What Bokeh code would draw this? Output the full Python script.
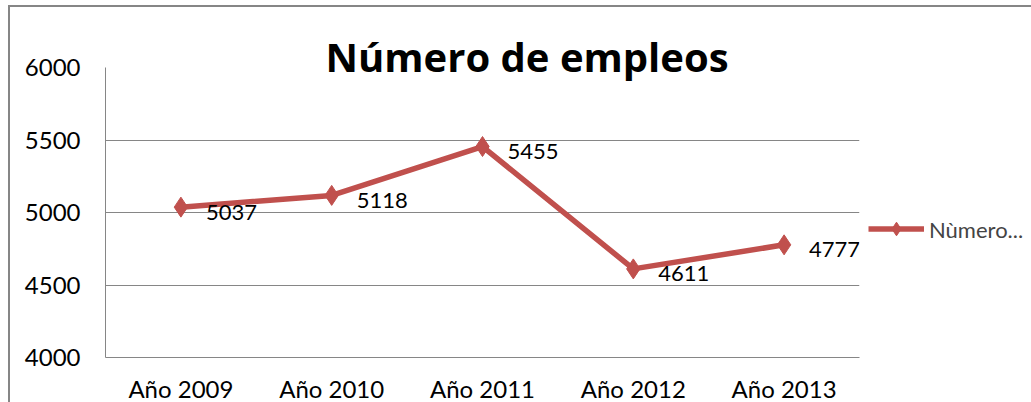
from bokeh.plotting import figure
from bokeh.models import (ColumnDataSource, FixedTicker, Range1d, LabelSet,
                          Legend, LegendItem)
from bokeh.core.properties import value
from bokeh.embed import file_html
from bokeh.resources import INLINE

years = ["Año 2009", "Año 2010", "Año 2011", "Año 2012", "Año 2013"]
empleos = [5037, 5118, 5455, 4611, 4777]
y_ticks = [4000, 4500, 5000, 5500, 6000]
title_text = "Número de empleos"
series_name = "Nùmero..."

RED = "#C0504D"
GRAY = "#868686"
FONT = "Lato"

src = ColumnDataSource(dict(x=years, y=empleos, lbl=[str(v) for v in empleos]))

p = figure(x_range=years, y_range=Range1d(4000, 6000),
           frame_width=754, frame_height=290,
           output_backend="svg", toolbar_location=None,
           min_border_left=95, min_border_right=172, min_border_top=60,
           min_border_bottom=45)
p.styles = {"border-top": "2px solid " + GRAY, "border-left": "2px solid " + GRAY,
            "margin-left": "8px", "margin-top": "5px"}
p.outline_line_color = None
p.background_fill_color = "white"
p.border_fill_color = "white"

p.title.text = title_text
p.title.text_font = "Open Sans"
p.title.text_font_size = "40px"
p.title.text_font_style = "bold"
p.title.text_color = "black"
p.title.align = "left"
p.title.offset = 220
p.title.standoff = -32

ln = p.line("x", "y", source=src, line_color=RED, line_width=5.5)
sc = p.scatter("x", "y", source=src, marker="diamond", size=20,
               fill_color=RED, line_color=RED)

labels = LabelSet(x="x", y="y", text="lbl", source=src, x_offset=25, y_offset=-5,
                  text_baseline="middle", text_font=value(FONT),
                  text_font_size="22px", text_color="black")
p.add_layout(labels)

p.yaxis.ticker = FixedTicker(ticks=y_ticks)
p.ygrid.ticker = FixedTicker(ticks=y_ticks)
p.ygrid.grid_line_color = GRAY
p.ygrid.grid_line_width = 1
p.xgrid.grid_line_color = None

for ax in (p.xaxis, p.yaxis):
    ax.axis_line_color = GRAY
    ax.axis_line_width = 1
    ax.major_tick_line_color = None
    ax.minor_tick_line_color = None
    ax.major_label_text_font = FONT
    ax.major_label_text_font_size = "24px"
    ax.major_label_text_color = "black"
p.yaxis.major_label_standoff = 19
p.xaxis.major_label_standoff = 10

legend = Legend(items=[LegendItem(label=series_name, renderers=[ln, sc])],
                location="center_left", orientation="vertical",
                glyph_width=56, glyph_height=34, padding=9, margin=0,
                label_standoff=5, border_line_alpha=0, background_fill_alpha=0,
                label_text_font=FONT, label_text_font_size="22px",
                title=" ", title_text_font_size="24px", title_standoff=5)
p.add_layout(legend, "right")

open("out.html", "w").write(file_html(p, INLINE))
